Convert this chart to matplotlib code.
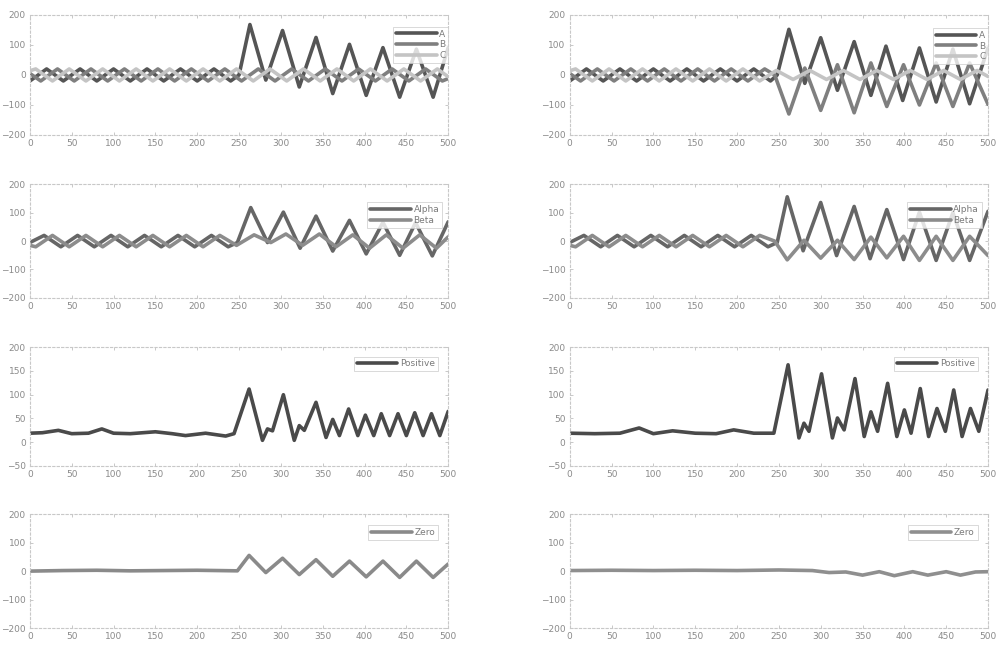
import matplotlib
matplotlib.use('Agg')
import matplotlib.pyplot as plt

# ---- three-phase set, left (A B C) ----
l_abc_A_x = [0, 20, 40, 60, 80, 100, 120, 140, 160, 180, 200, 220, 240, 250, 263, 282, 302, 322, 342, 362, 382, 402, 422, 442, 462, 482, 500]
l_abc_A_y = [-20, 20, -20, 20, -20, 20, -20, 20, -20, 20, -20, 20, -20, 0, 168, -17, 148, -40, 125, -62, 102, -68, 91, -74, 86, -74, 91]
l_abc_B_x = [0, 13, 33, 53, 73, 93, 113, 133, 153, 173, 193, 213, 233, 253, 273, 293, 313, 333, 353, 373, 393, 413, 433, 453, 473, 493, 500]
l_abc_B_y = [5, -20, 20, -20, 20, -20, 20, -20, 20, -20, 20, -20, 20, -20, 20, -20, 20, -20, 20, -20, 20, -20, 20, -20, 20, -20, -12]
l_abc_C_x = [0, 7, 27, 47, 67, 87, 107, 127, 147, 167, 187, 207, 227, 247, 267, 287, 307, 327, 347, 367, 387, 407, 427, 447, 467, 487, 500]
l_abc_C_y = [14, 20, -20, 20, -20, 20, -20, 20, -20, 20, -20, 20, -20, 20, -20, 20, -20, 20, -20, 20, -20, 20, -20, 20, -20, 20, -6]

# ---- three-phase set, right (A B C) ----
r_abc_A_x = [0, 20, 40, 60, 80, 100, 120, 140, 160, 180, 200, 220, 240, 248, 262, 281, 300, 320, 340, 360, 378, 398, 418, 438, 458, 478, 500]
r_abc_A_y = [-20, 20, -20, 20, -20, 20, -20, 20, -20, 20, -20, 20, -20, 0, 152, -28, 124, -51, 111, -68, 96, -85, 90, -90, 86, -96, 90]
r_abc_B_x = [0, 13, 33, 53, 73, 93, 113, 133, 153, 173, 193, 213, 233, 245, 262, 281, 300, 320, 340, 360, 379, 399, 418, 438, 458, 478, 500]
r_abc_B_y = [5, -20, 20, -20, 20, -20, 20, -20, 20, -20, 20, -20, 20, 0, -130, 23, -118, 34, -126, 40, -105, 34, -100, 40, -105, 40, -98]
r_abc_C_x = [0, 7, 27, 47, 67, 87, 107, 127, 147, 167, 187, 207, 227, 247, 267, 287, 307, 327, 347, 367, 387, 407, 427, 447, 467, 487, 500]
r_abc_C_y = [14, 20, -20, 20, -20, 20, -20, 20, -20, 20, -20, 20, -20, 15, -15, 15, -15, 15, -15, 15, -15, 15, -15, 15, -15, 15, -5]

# ---- alpha / beta ----
l_ab_alpha_x = [0, 17, 37, 57, 77, 97, 117, 137, 157, 177, 197, 217, 237, 248, 264, 284, 303, 323, 342, 362, 382, 402, 422, 442, 461, 481, 500]
l_ab_alpha_y = [-5, 20, -20, 20, -20, 20, -20, 20, -20, 20, -20, 20, -20, -5, 118, -5, 102, -25, 88, -35, 73, -45, 66, -50, 65, -52, 68]
l_ab_beta_x = [0, 7, 27, 47, 67, 87, 107, 127, 147, 167, 187, 207, 227, 247, 268, 288, 306, 326, 346, 366, 386, 406, 426, 446, 466, 486, 500]
l_ab_beta_y = [-15, -20, 20, -20, 20, -20, 20, -20, 20, -20, 20, -20, 20, -15, 22, -5, 25, -15, 25, -20, 22, -25, 22, -25, 22, -25, 15]

r_ab_alpha_x = [0, 17, 37, 57, 77, 97, 117, 137, 157, 177, 197, 217, 237, 248, 260, 279, 300, 319, 340, 359, 379, 399, 418, 438, 458, 478, 500]
r_ab_alpha_y = [-5, 20, -20, 20, -20, 20, -20, 20, -20, 20, -20, 20, -20, -5, 156, -34, 136, -51, 122, -62, 111, -65, 102, -68, 100, -68, 105]
r_ab_beta_x = [0, 7, 27, 47, 67, 87, 107, 127, 147, 167, 187, 207, 227, 245, 260, 280, 300, 320, 340, 360, 379, 399, 418, 438, 458, 478, 500]
r_ab_beta_y = [-15, -20, 20, -20, 20, -20, 20, -20, 20, -20, 20, -20, 20, 0, -66, 3, -60, 3, -65, 14, -59, 17, -68, 17, -68, 17, -51]

# ---- positive sequence ----
l_pos_x = [0, 15, 34, 50, 70, 86, 100, 120, 150, 170, 186, 210, 234, 244, 262, 278, 284, 290, 303, 316, 322, 328, 342, 354, 362, 370,
           381, 392, 401, 411, 420, 430, 440, 450, 460, 470, 480, 490, 500]
l_pos_y = [19, 20, 25, 18, 19, 28, 19, 18, 22, 18, 14, 19, 13, 18, 112, 4, 28, 24, 100, 4, 35, 25, 84, 10, 48, 14,
           70, 14, 57, 14, 60, 14, 60, 14, 62, 14, 60, 14, 65]
r_pos_x = [0, 30, 60, 83, 100, 123, 150, 175, 196, 220, 244, 261, 274, 280, 286, 301, 314, 320, 328, 341, 352, 360, 368,
           380, 391, 400, 408, 419, 429, 439, 449, 459, 469, 479, 489, 500]
r_pos_y = [19, 18, 19, 30, 18, 24, 19, 18, 26, 19, 19, 163, 9, 40, 23, 144, 9, 51, 26, 134, 12, 64, 23,
           124, 12, 68, 19, 113, 12, 71, 23, 110, 12, 71, 23, 110]

# ---- zero sequence ----
l_zero_x = [0, 40, 80, 120, 160, 200, 248, 262, 282, 302, 322, 342, 362, 382, 402, 422, 442, 462, 482, 500]
l_zero_y = [0, 2, 3, 1, 2, 3, 1, 55, -5, 45, -12, 40, -18, 35, -20, 35, -22, 35, -22, 25]
r_zero_x = [0, 50, 100, 150, 200, 250, 290, 310, 330, 350, 370, 388, 410, 428, 450, 467, 485, 500]
r_zero_y = [2, 3, 2, 3, 2, 4, 2, -5, -3, -14, -2, -16, -2, -14, -2, -14, -3, -2]

x_ticks = list(range(0, 501, 50))
y_ticks_wide = [-200, -100, 0, 100, 200]
y_ticks_pos = [-50, 0, 50, 100, 150, 200]


def style_axes(ax, yticks):
    ax.set_xlim(0, 500)
    ax.set_ylim(yticks[0], yticks[-1])
    ax.set_xticks(x_ticks)
    ax.set_yticks(yticks)
    for side in ['top', 'bottom', 'left', 'right']:
        ax.spines[side].set_color('#c8c8c8')
        ax.spines[side].set_linestyle((0, (2, 2)))
        ax.spines[side].set_linewidth(0.8)
    ax.tick_params(axis='both', labelsize=6.5, labelcolor='#8a8a8a', color='#c8c8c8',
                   length=2.5, width=0.7, direction='in', top=True, right=True, pad=3)


def add_legend(ax, anchor):
    leg = ax.legend(loc='upper right', bbox_to_anchor=anchor, fontsize=6.5, frameon=True,
                    fancybox=False, handlelength=4.5, handletextpad=0.3, borderpad=0.3,
                    labelspacing=0.2, borderaxespad=0.0)
    leg.get_frame().set_edgecolor('#c8c8c8')
    leg.get_frame().set_linewidth(0.6)
    for t in leg.get_texts():
        t.set_color('#7a7a7a')


def draw(ax, xs, ys, color, label):
    ax.plot(xs, ys, color=color, lw=2.6, label=label,
            solid_joinstyle='round', solid_capstyle='round')


fig = plt.figure(figsize=(9.96, 6.49), dpi=100)
lefts = [0.030, 0.572]
w = 0.420
rows = [(0.792, 0.185), (0.541, 0.175), (0.282, 0.183), (0.032, 0.176)]

dark = '#555555'
mid = '#7f7f7f'
light = '#c4c4c4'

axes = [[fig.add_axes([l, b, w, h]) for l in lefts] for (b, h) in rows]

# row 1
ax = axes[0][0]
draw(ax, l_abc_A_x, l_abc_A_y, dark, 'A')
draw(ax, l_abc_B_x, l_abc_B_y, mid, 'B')
draw(ax, l_abc_C_x, l_abc_C_y, light, 'C')
style_axes(ax, y_ticks_wide)
add_legend(ax, (1.0, 0.90))

ax = axes[0][1]
draw(ax, r_abc_A_x, r_abc_A_y, dark, 'A')
draw(ax, r_abc_B_x, r_abc_B_y, mid, 'B')
draw(ax, r_abc_C_x, r_abc_C_y, light, 'C')
style_axes(ax, y_ticks_wide)
add_legend(ax, (1.0, 0.89))

# row 2
ax = axes[1][0]
draw(ax, l_ab_alpha_x, l_ab_alpha_y, '#666666', 'Alpha')
draw(ax, l_ab_beta_x, l_ab_beta_y, '#8c8c8c', 'Beta')
style_axes(ax, y_ticks_wide)
add_legend(ax, (0.985, 0.84))

ax = axes[1][1]
draw(ax, r_ab_alpha_x, r_ab_alpha_y, '#666666', 'Alpha')
draw(ax, r_ab_beta_x, r_ab_beta_y, '#8c8c8c', 'Beta')
style_axes(ax, y_ticks_wide)
add_legend(ax, (0.985, 0.84))

# row 3
ax = axes[2][0]
draw(ax, l_pos_x, l_pos_y, '#4a4a4a', 'Positive')
style_axes(ax, y_ticks_pos)
add_legend(ax, (0.975, 0.92))

ax = axes[2][1]
draw(ax, r_pos_x, r_pos_y, '#4a4a4a', 'Positive')
style_axes(ax, y_ticks_pos)
add_legend(ax, (0.975, 0.92))

# row 4
ax = axes[3][0]
draw(ax, l_zero_x, l_zero_y, '#8a8a8a', 'Zero')
style_axes(ax, y_ticks_wide)
add_legend(ax, (0.975, 0.90))

ax = axes[3][1]
draw(ax, r_zero_x, r_zero_y, '#8f8f8f', 'Zero')
style_axes(ax, y_ticks_wide)
add_legend(ax, (0.975, 0.90))

fig.savefig('out.png', dpi=100)
